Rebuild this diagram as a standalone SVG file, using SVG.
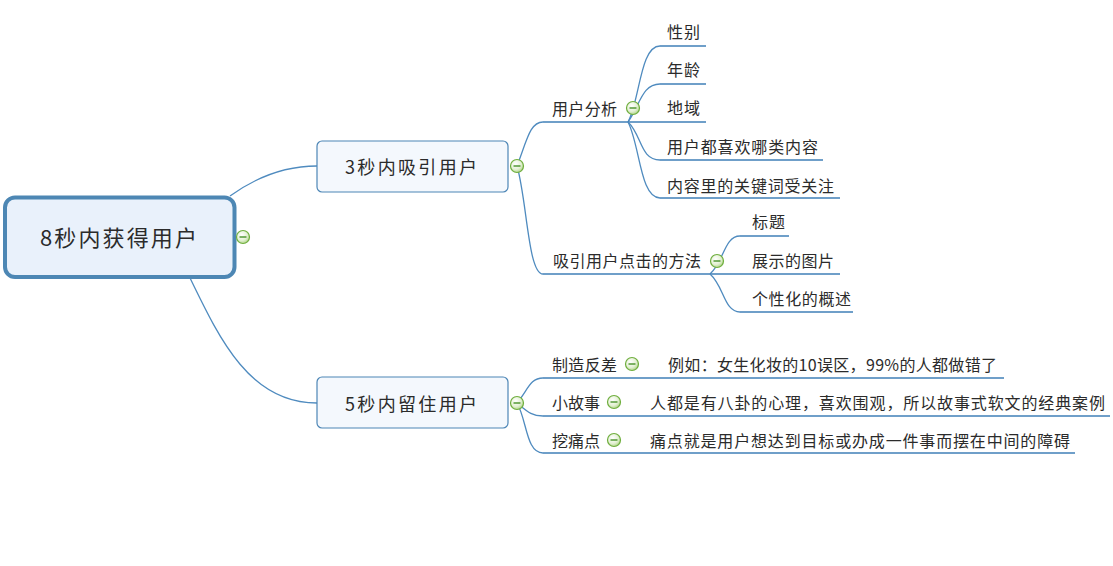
<svg xmlns="http://www.w3.org/2000/svg" width="1113" height="566" viewBox="0 0 1113 566">
<style>
text{font-family:"Noto Sans CJK SC","Liberation Sans",sans-serif;fill:#2b2b2b}
.t{font-size:16px}
.l1{font-size:18px}
.c{fill:none;stroke:#4f8bbf;stroke-width:1.3}
.u{fill:none;stroke:#3f7fb7;stroke-width:1.5}
.box{fill:#f4f8fd;stroke:#4d86b6;stroke-width:1.2}
</style>
<defs>
<radialGradient id="g" cx="0.4" cy="0.35" r="0.7">
<stop offset="0" stop-color="#ffffff"/>
<stop offset="0.6" stop-color="#e3f0d3"/>
<stop offset="1" stop-color="#a9d17f"/>
</radialGradient>
<g id="ic">
<circle r="6.5" fill="url(#g)" stroke="#6fae3e" stroke-width="1.2"/>
<line x1="-3.5" y1="0" x2="3.5" y2="0" stroke="#3a8a1a" stroke-width="1.3"/>
</g>
</defs>
<rect width="1113" height="566" fill="#ffffff"/>
<g id="connectors">
<path class="c" d="M230 196 C255 178 285 166 317 166"/>
<path class="c" d="M190 278 C220 340 250 403 317 403"/>
<path class="c" d="M517 166 C527 140 530 122 543 122"/>
<path class="u" d="M543 122 L628 122"/>
<path class="c" d="M517 166 C527 200 528 274 543 274"/>
<path class="u" d="M543 274 L710 274"/>
<path class="c" d="M628 122 C640 100 640 46 660 46"/>
<path class="u" d="M660 46 L706 46"/>
<path class="c" d="M628 122 C640 105 642 84 660 84"/>
<path class="u" d="M660 84 L706 84"/>
<path class="u" d="M628 122 L706 122"/>
<path class="c" d="M628 122 C642 135 640 160 660 160"/>
<path class="u" d="M660 160 L823 160"/>
<path class="c" d="M628 122 C640 145 640 198 660 198"/>
<path class="u" d="M660 198 L840 198"/>
<path class="c" d="M710 274 C724 262 724 236 740 236"/>
<path class="u" d="M740 236 L789 236"/>
<path class="u" d="M710 274 L840 274"/>
<path class="c" d="M710 274 C724 286 724 312 740 312"/>
<path class="u" d="M740 312 L853 312"/>
<path class="c" d="M517 403 C528 390 530 378 543 378"/>
<path class="u" d="M543 378 L1004 378"/>
<path class="c" d="M517 403 C528 412 532 416 543 416"/>
<path class="u" d="M543 416 L1110 416"/>
<path class="c" d="M517 403 C527 420 526 453 543 453"/>
<path class="u" d="M543 453 L1075 453"/>
</g>
<g id="root">
<rect x="5" y="197.5" width="229.5" height="79.5" rx="10" fill="#e9f1fb" stroke="#4d87b4" stroke-width="4"/>
<text x="40" y="246" font-size="22" textLength="157" lengthAdjust="spacing">8秒内获得用户</text>
<use href="#ic" x="243" y="237"/>
</g>
<g id="n1">
<rect class="box" x="317" y="141" width="191" height="51" rx="5"/>
<text class="l1" x="345" y="174" textLength="132" lengthAdjust="spacing">3秒内吸引用户</text>
<use href="#ic" x="517" y="166"/>
</g>
<g id="n2">
<rect class="box" x="317" y="377" width="191" height="51" rx="5"/>
<text class="l1" x="345" y="411" textLength="132" lengthAdjust="spacing">5秒内留住用户</text>
<use href="#ic" x="517" y="403"/>
</g>
<g id="n1a">
<text class="t" x="552" y="115" textLength="65" lengthAdjust="spacing">用户分析</text>
<use href="#ic" x="633" y="108"/>
</g>
<g id="n1a1"><text class="t" x="667" y="38" textLength="33" lengthAdjust="spacing">性别</text></g>
<g id="n1a2"><text class="t" x="667" y="76" textLength="33" lengthAdjust="spacing">年龄</text></g>
<g id="n1a3"><text class="t" x="667" y="114" textLength="33" lengthAdjust="spacing">地域</text></g>
<g id="n1a4"><text class="t" x="667" y="153" textLength="151" lengthAdjust="spacing">用户都喜欢哪类内容</text></g>
<g id="n1a5"><text class="t" x="667" y="192" textLength="167" lengthAdjust="spacing">内容里的关键词受关注</text></g>
<g id="n1b">
<text class="t" x="553" y="267" textLength="148" lengthAdjust="spacing">吸引用户点击的方法</text>
<use href="#ic" x="717" y="261"/>
</g>
<g id="n1b1"><text class="t" x="752" y="228" textLength="33" lengthAdjust="spacing">标题</text></g>
<g id="n1b2"><text class="t" x="752" y="267" textLength="82" lengthAdjust="spacing">展示的图片</text></g>
<g id="n1b3"><text class="t" x="752" y="305" textLength="99" lengthAdjust="spacing">个性化的概述</text></g>
<g id="n2a">
<text class="t" x="552" y="371" textLength="65" lengthAdjust="spacing">制造反差</text>
<use href="#ic" x="632" y="364"/>
</g>
<g id="n2a1"><text class="t" x="668" y="371" textLength="329" lengthAdjust="spacing">例如：女生化妆的10误区，99%的人都做错了</text></g>
<g id="n2b">
<text class="t" x="552" y="409" textLength="48" lengthAdjust="spacing">小故事</text>
<use href="#ic" x="614" y="402"/>
</g>
<g id="n2b1"><text class="t" x="650" y="409" textLength="455" lengthAdjust="spacing">人都是有八卦的心理，喜欢围观，所以故事式软文的经典案例</text></g>
<g id="n2c">
<text class="t" x="552" y="447" textLength="48" lengthAdjust="spacing">挖痛点</text>
<use href="#ic" x="614" y="440"/>
</g>
<g id="n2c1"><text class="t" x="650" y="447" textLength="420" lengthAdjust="spacing">痛点就是用户想达到目标或办成一件事而摆在中间的障碍</text></g>
</svg>
